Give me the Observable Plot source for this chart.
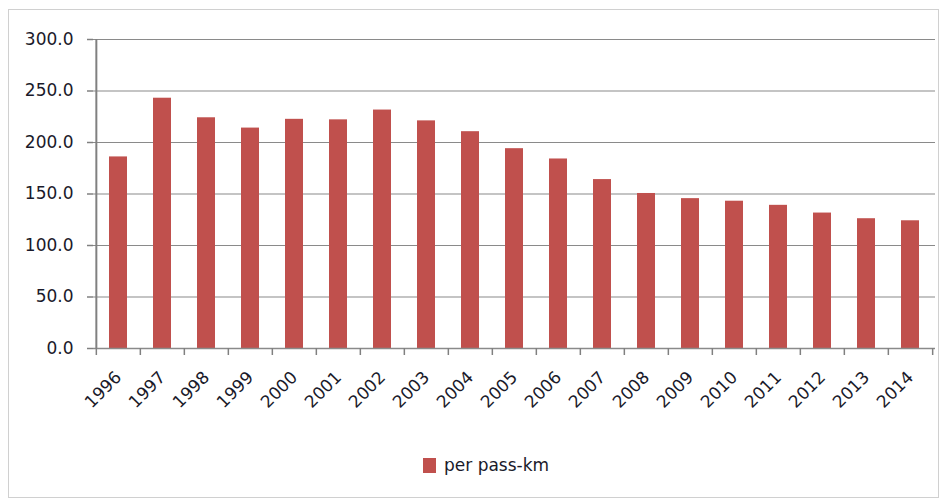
<!DOCTYPE html>
<html>
<head>
<meta charset="utf-8">
<script src="https://cdn.jsdelivr.net/npm/d3@7"></script>
<script src="https://cdn.jsdelivr.net/npm/@observablehq/plot@0.6"></script>
<style>
  html, body { margin: 0; padding: 0; background: #fff; }
  #wrap { position: relative; width: 946px; height: 502px; overflow: hidden; font-family: "DejaVu Sans", sans-serif; background: #fff; }
  #frame { position: absolute; left: 8px; top: 9px; width: 931px; height: 489px; border: 1px solid #d0d0d0; box-sizing: border-box; pointer-events: none; z-index: 2; }
  #chart { position: absolute; left: 0; top: 0; z-index: 1; }
  #legend { position: absolute; left: 423px; top: 455px; display: flex; align-items: center; font-size: 17px; color: #1a1a2a; z-index: 1; }
  #legend .sw { width: 13px; height: 15px; background: #C0504D; margin-right: 8px; }
</style>
</head>
<body>
<div id="wrap">
  <div id="chart"></div>
  <div id="legend"><div class="sw"></div><span>per pass-km</span></div>
  <div id="frame"></div>
</div>
<script>
const years = ["1996","1997","1998","1999","2000","2001","2002","2003","2004","2005","2006","2007","2008","2009","2010","2011","2012","2013","2014"];
const values = [186, 243, 224, 214, 222.5, 222, 231.5, 221, 210.5, 194, 184, 164, 150.5, 145.5, 143, 139, 131.5, 126, 124];
const yTicks = [0, 50, 100, 150, 200, 250, 300];
const seriesName = "per pass-km";

const data = years.map((y, i) => ({year: y, value: values[i]}));

const W = 946, H = 440;
const mLeft = 93, mRight = 11;
const step = (W - mLeft - mRight) / years.length;

const plot = Plot.plot({
  width: W,
  height: H,
  marginLeft: mLeft,
  marginRight: mRight,
  marginTop: 39,
  marginBottom: 92,
  style: {fontFamily: "'DejaVu Sans', sans-serif", fontSize: "17px", color: "#1a1a2a", background: "transparent"},
  x: {domain: years, paddingInner: 0.6, paddingOuter: 0.3, align: 0.5, label: null},
  y: {domain: [0, 300], label: null},
  marks: [
    Plot.ruleY(yTicks.filter(d => d > 0), {stroke: "#8a8a8a", strokeWidth: 1.2}),
    Plot.barY(data, {x: "year", y: "value", fill: "#C0504D"}),
    Plot.ruleY([0], {stroke: "#8a8a8a", strokeWidth: 1.5}),
    Plot.ruleX([years[0]], {dx: -step / 2, y1: 0, y2: 300, stroke: "#808080", strokeWidth: 2}),
    Plot.axisY({ticks: yTicks, tickFormat: d3.format(".1f"), tickSize: 6, tickPadding: 14, stroke: "#808080", strokeWidth: 1.5, fontSize: "17px"}),
    Plot.axisX({tickSize: 7, dx: -step / 2, text: null, stroke: "#808080", strokeWidth: 1.5}),
    Plot.axisX([years[years.length - 1]], {tickSize: 7, dx: step / 2, text: null, stroke: "#808080", strokeWidth: 1.5}),
    Plot.axisX({tickSize: 0, tickRotate: -45, tickPadding: 26, dx: 0, fontSize: "17px"})
  ]
});
document.getElementById("chart").appendChild(plot);
</script>
</body>
</html>
